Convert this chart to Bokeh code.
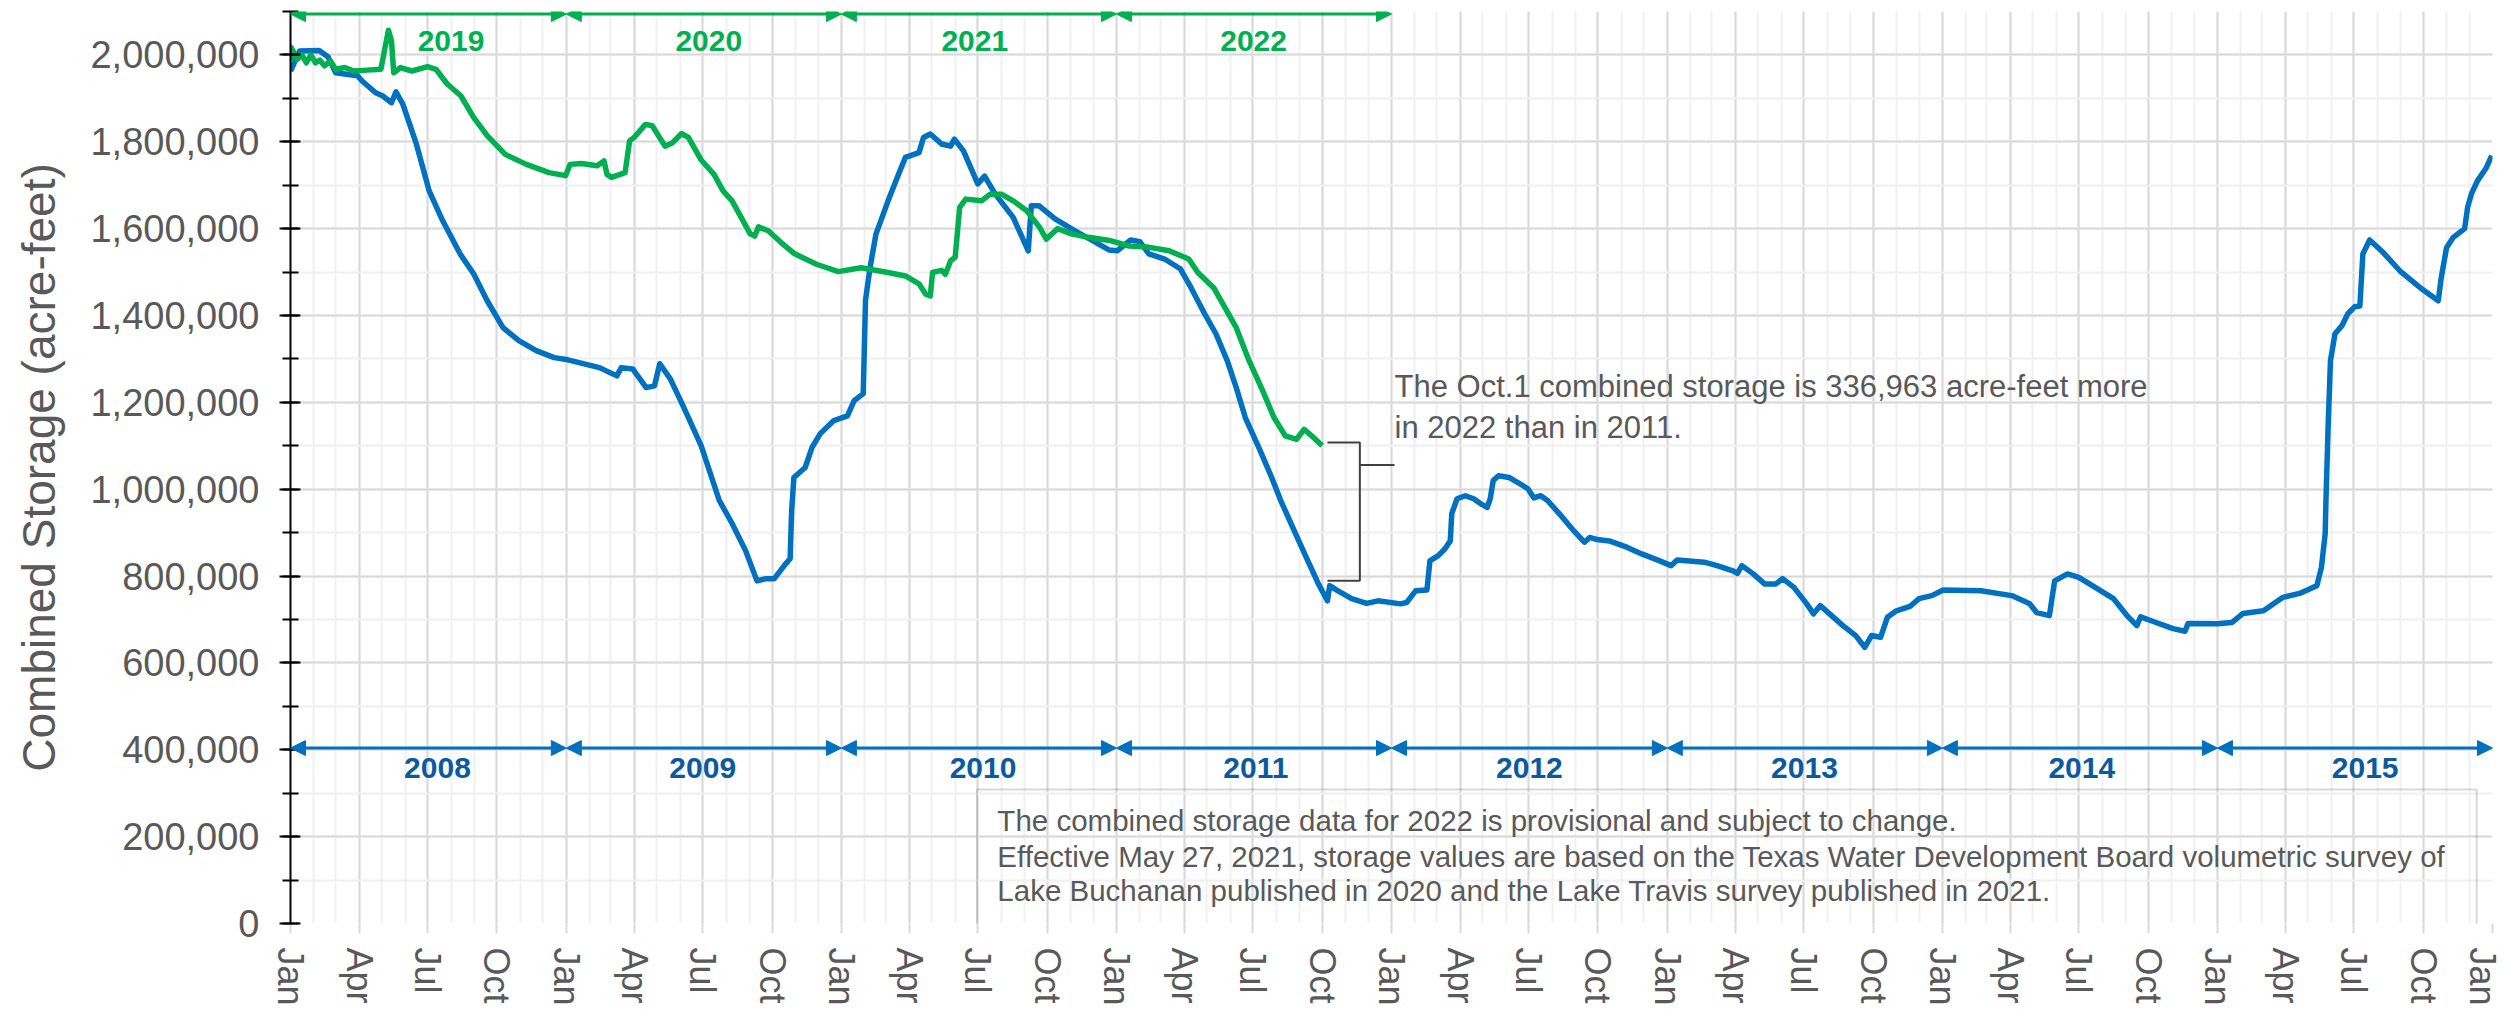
import math
import pandas as pd
from bokeh.plotting import figure
from bokeh.models import (Range1d, FixedTicker, NumeralTickFormatter, DatetimeTickFormatter,
                          Arrow, NormalHead, Label, BoxAnnotation)
from bokeh.embed import file_html
from bokeh.resources import INLINE

# ---------------- data ----------------
blue_dates = [
    "2008-01-01", "2008-01-13", "2008-02-08", "2008-02-20", "2008-03-01", "2008-03-30", "2008-04-05",
    "2008-04-23", "2008-05-02", "2008-05-14", "2008-05-20", "2008-05-29", "2008-06-16", "2008-07-03",
    "2008-07-21", "2008-08-13", "2008-08-31", "2008-09-18", "2008-10-09", "2008-10-30", "2008-11-22",
    "2008-12-16", "2009-01-03", "2009-02-14", "2009-03-09", "2009-03-15", "2009-03-30", "2009-04-17",
    "2009-04-28", "2009-05-05", "2009-05-19", "2009-06-06", "2009-06-29", "2009-07-23", "2009-08-09",
    "2009-08-27", "2009-09-11", "2009-09-23", "2009-10-04", "2009-10-19", "2009-10-25", "2009-10-27",
    "2009-10-30", "2009-11-14", "2009-11-23", "2009-12-04", "2009-12-22", "2010-01-09", "2010-01-18",
    "2010-01-30", "2010-02-02", "2010-02-08", "2010-02-16", "2010-03-04", "2010-03-18", "2010-03-27",
    "2010-04-14", "2010-04-20", "2010-04-29", "2010-05-14", "2010-05-26", "2010-05-31", "2010-06-12",
    "2010-07-01", "2010-07-10", "2010-07-24", "2010-08-17", "2010-09-06", "2010-09-10", "2010-09-20",
    "2010-10-12", "2010-11-07", "2010-12-01", "2010-12-22", "2011-01-02", "2011-01-20", "2011-02-01",
    "2011-02-13", "2011-03-06", "2011-03-27", "2011-04-10", "2011-04-28", "2011-05-13", "2011-05-28",
    "2011-06-09", "2011-06-21", "2011-07-09", "2011-07-26", "2011-08-07", "2011-08-25", "2011-09-12",
    "2011-09-26", "2011-10-08", "2011-10-11", "2011-10-22", "2011-11-09", "2011-11-29", "2011-12-14",
    "2012-01-13", "2012-01-21", "2012-02-02", "2012-02-17", "2012-02-21", "2012-03-03", "2012-03-12",
    "2012-03-19", "2012-03-21", "2012-03-28", "2012-04-08", "2012-04-19", "2012-04-28", "2012-05-07",
    "2012-05-11", "2012-05-15", "2012-05-22", "2012-06-05", "2012-06-16", "2012-06-30", "2012-07-08",
    "2012-07-17", "2012-07-26", "2012-08-13", "2012-08-30", "2012-09-13", "2012-09-20", "2012-09-30",
    "2012-10-16", "2012-11-09", "2012-11-28", "2012-12-22", "2013-01-06", "2013-01-14", "2013-02-19",
    "2013-03-08", "2013-03-29", "2013-04-04", "2013-04-10", "2013-04-25", "2013-05-10", "2013-05-25",
    "2013-06-03", "2013-06-18", "2013-07-05", "2013-07-14", "2013-07-23", "2013-08-07", "2013-08-22",
    "2013-09-08", "2013-09-20", "2013-09-29", "2013-10-11", "2013-10-20", "2013-11-01", "2013-11-19",
    "2013-12-01", "2013-12-18", "2014-01-02", "2014-02-21", "2014-04-03", "2014-04-27", "2014-05-06",
    "2014-05-23", "2014-05-30", "2014-06-16", "2014-07-01", "2014-07-19", "2014-08-16", "2014-09-03",
    "2014-09-16", "2014-09-21", "2014-10-07", "2014-11-03", "2014-11-19", "2014-11-23", "2015-01-01",
    "2015-01-20", "2015-02-04", "2015-03-03", "2015-03-29", "2015-04-20", "2015-05-04", "2015-05-13",
    "2015-05-19", "2015-05-24", "2015-05-25", "2015-05-28", "2015-05-31", "2015-06-06", "2015-06-15",
    "2015-06-23", "2015-07-02", "2015-07-09", "2015-07-13", "2015-07-22", "2015-08-09", "2015-08-31",
    "2015-09-27", "2015-10-21", "2015-10-25", "2015-11-01", "2015-11-10", "2015-11-25", "2015-11-29",
    "2015-12-04", "2015-12-12", "2015-12-24", "2015-12-31",
]
blue_values = [
    1963000, 2009000, 2010000, 1995000, 1959000, 1952000, 1940000,
    1913000, 1906000, 1890000, 1915000, 1887000, 1795000, 1687000,
    1618000, 1542000, 1496000, 1434000, 1372000, 1342000, 1319000,
    1303000, 1298000, 1280000, 1261000, 1280000, 1277000, 1234000,
    1238000, 1289000, 1254000, 1188000, 1100000, 974000, 921000,
    858000, 789000, 794000, 794000, 828000, 840000, 950000,
    1027000, 1050000, 1096000, 1128000, 1158000, 1169000, 1204000,
    1220000, 1434000, 1510000, 1588000, 1664000, 1726000, 1764000,
    1775000, 1810000, 1818000, 1795000, 1790000, 1806000, 1779000,
    1703000, 1721000, 1680000, 1626000, 1549000, 1653000, 1653000,
    1622000, 1595000, 1572000, 1551000, 1549000, 1574000, 1570000,
    1542000, 1530000, 1507000, 1464000, 1404000, 1358000, 1296000,
    1234000, 1165000, 1096000, 1027000, 974000, 904000, 835000,
    782000, 743000, 778000, 766000, 748000, 737000, 743000,
    736000, 739000, 766000, 768000, 835000, 847000, 863000,
    881000, 944000, 978000, 985000, 978000, 967000, 958000,
    978000, 1020000, 1031000, 1027000, 1016000, 1001000, 980000,
    985000, 974000, 939000, 904000, 878000, 889000, 884000,
    881000, 866000, 851000, 835000, 824000, 837000, 832000,
    824000, 812000, 806000, 824000, 805000, 782000, 782000,
    794000, 774000, 736000, 713000, 732000, 709000, 686000,
    663000, 636000, 663000, 659000, 705000, 720000, 730000,
    748000, 755000, 768000, 766000, 755000, 736000, 716000,
    709000, 789000, 805000, 797000, 778000, 748000, 709000,
    686000, 706000, 696000, 679000, 673000, 691000, 690000,
    693000, 714000, 720000, 751000, 760000, 771000, 778000,
    820000, 898000, 974000, 1151000, 1296000, 1358000, 1376000,
    1404000, 1420000, 1422000, 1542000, 1574000, 1545000, 1503000,
    1464000, 1434000, 1487000, 1556000, 1580000, 1600000, 1649000,
    1680000, 1710000, 1741000, 1768000,
]

green_dates = [
    "2019-01-01", "2019-01-02", "2019-01-10", "2019-01-16", "2019-01-22", "2019-01-28", "2019-02-03",
    "2019-02-09", "2019-02-15", "2019-02-23", "2019-03-01", "2019-03-13", "2019-03-25", "2019-04-12",
    "2019-04-30", "2019-05-05", "2019-05-10", "2019-05-14", "2019-05-17", "2019-05-26", "2019-06-10",
    "2019-07-01", "2019-07-12", "2019-07-27", "2019-08-14", "2019-08-31", "2019-09-18", "2019-10-12",
    "2019-11-09", "2019-12-09", "2019-12-31", "2020-01-06", "2020-01-21", "2020-02-11", "2020-02-20",
    "2020-02-24", "2020-03-02", "2020-03-20", "2020-03-26", "2020-04-01", "2020-04-16", "2020-04-25",
    "2020-05-12", "2020-05-22", "2020-06-03", "2020-06-12", "2020-06-29", "2020-07-16", "2020-07-28",
    "2020-08-09", "2020-09-02", "2020-09-08", "2020-09-13", "2020-09-26", "2020-10-13", "2020-10-31",
    "2020-11-29", "2020-12-28", "2021-01-27", "2021-03-04", "2021-03-27", "2021-04-14", "2021-04-23",
    "2021-04-29", "2021-05-02", "2021-05-14", "2021-05-19", "2021-05-26", "2021-06-01", "2021-06-07",
    "2021-06-15", "2021-07-06", "2021-07-17", "2021-08-02", "2021-08-17", "2021-09-04", "2021-09-21",
    "2021-09-30", "2021-10-15", "2021-11-02", "2021-11-25", "2021-12-25", "2022-01-18", "2022-02-10",
    "2022-03-12", "2022-04-07", "2022-04-19", "2022-05-10", "2022-05-25", "2022-06-09", "2022-06-26",
    "2022-07-14", "2022-07-29", "2022-08-13", "2022-08-28", "2022-09-07", "2022-09-17", "2022-10-01",
]
green_values = [
    1985000, 2017000, 1990000, 2000000, 1982000, 2000000, 1982000,
    1988000, 1975000, 1986000, 1967000, 1971000, 1963000, 1965000,
    1967000, 2013000, 2057000, 2032000, 1959000, 1971000, 1963000,
    1973000, 1967000, 1933000, 1906000, 1856000, 1814000, 1771000,
    1748000, 1729000, 1722000, 1748000, 1750000, 1745000, 1756000,
    1725000, 1718000, 1729000, 1802000, 1810000, 1840000, 1837000,
    1790000, 1798000, 1819000, 1810000, 1758000, 1725000, 1687000,
    1664000, 1588000, 1583000, 1604000, 1595000, 1568000, 1542000,
    1518000, 1501000, 1510000, 1499000, 1491000, 1473000, 1449000,
    1445000, 1499000, 1504000, 1495000, 1526000, 1534000, 1649000,
    1668000, 1664000, 1679000, 1679000, 1664000, 1641000, 1603000,
    1576000, 1600000, 1588000, 1580000, 1572000, 1560000, 1558000,
    1549000, 1530000, 1499000, 1464000, 1418000, 1372000, 1296000,
    1227000, 1165000, 1123000, 1115000, 1138000, 1123000, 1100000,
]

blue_years = ["2008", "2009", "2010", "2011", "2012", "2013", "2014", "2015"]
green_years = ["2019", "2020", "2021", "2022"]
quarter_labels = ["Jan", "Apr", "Jul", "Oct"]
y_ticks = list(range(0, 2000001, 200000))

note_lines = [
    "The combined storage data for 2022 is provisional and subject to change.",
    "Effective May 27, 2021, storage values are based on the Texas Water Development Board volumetric survey of",
    "Lake Buchanan published in 2020 and the Lake Travis survey published in 2021.",
]
diff_lines = [
    "The Oct.1 combined storage is 336,963 acre-feet more",
    "in 2022 than in 2011.",
]

# ---------------- helpers ----------------
def ms(s):
    return pd.Timestamp(s).value / 1e6

BLUE = "#0070c0"
GREEN = "#00b050"
DARKBLUE = "#0a5aa0"
GRAY_TXT = "#595959"
FONT = "Liberation Sans"

bx = pd.to_datetime(blue_dates)
gx = [d.replace(year=d.year - 11) for d in pd.to_datetime(green_dates)]

p = figure(x_axis_type="datetime", output_backend="svg", toolbar_location=None,
           frame_width=2202, frame_height=912,
           min_border_left=290, min_border_right=10, min_border_top=11, min_border_bottom=10,
           x_range=Range1d(ms("2008-01-01"), ms("2016-01-01")),
           y_range=Range1d(0, 2100000))
p.outline_line_color = None
p.background_fill_color = "white"

# ticks
quarter_ticks = []
overrides = {}
for yr in range(2008, 2017):
    for i, m in enumerate([1, 4, 7, 10]):
        if yr == 2016 and m > 1:
            break
        t = int(ms(f"{yr}-{m:02d}-01"))
        quarter_ticks.append(t)
        overrides[t] = quarter_labels[i]
month_ticks = [int(ms(f"{yr}-{m:02d}-01")) for yr in range(2008, 2016) for m in range(1, 13)] + [int(ms("2016-01-01"))]

p.xaxis.ticker = FixedTicker(ticks=quarter_ticks, minor_ticks=month_ticks)
p.xaxis.formatter = DatetimeTickFormatter(days="%b", months="%b", years="%b")
p.xaxis.major_label_overrides = overrides
p.xaxis.major_label_orientation = -math.pi / 2
p.xaxis.major_label_text_font = FONT
p.xaxis.major_label_text_font_size = "36px"
p.xaxis.major_label_text_color = GRAY_TXT
p.xaxis.axis_line_color = None
p.xaxis.major_tick_line_color = "#d9d9d9"
p.xaxis.major_tick_line_width = 2
p.xaxis.major_tick_in = 0
p.xaxis.major_tick_out = 10
p.xaxis.minor_tick_line_color = None
p.xaxis.major_label_standoff = 14

p.yaxis.ticker = FixedTicker(ticks=y_ticks, minor_ticks=list(range(0, 2100001, 100000)))
p.yaxis.formatter = NumeralTickFormatter(format="0,0")
p.yaxis.major_label_text_font = FONT
p.yaxis.major_label_text_font_size = "38px"
p.yaxis.major_label_text_color = GRAY_TXT
p.yaxis.axis_line_color = "black"
p.yaxis.axis_line_width = 2
p.yaxis.major_tick_line_color = "black"
p.yaxis.major_tick_line_width = 2
p.yaxis.major_tick_in = 10
p.yaxis.major_tick_out = 11
p.yaxis.minor_tick_line_color = "black"
p.yaxis.minor_tick_line_width = 2
p.yaxis.minor_tick_in = 8
p.yaxis.minor_tick_out = 8
p.yaxis.major_label_standoff = 20
p.yaxis.axis_label = "Combined Storage (acre-feet)"
p.yaxis.axis_label_text_font = FONT
p.yaxis.axis_label_text_font_size = "46px"
p.yaxis.axis_label_text_font_style = "normal"
p.yaxis.axis_label_text_color = GRAY_TXT
p.yaxis.axis_label_standoff = 22

for g in (p.xgrid, p.ygrid):
    g.grid_line_color = "#d9d9d9"
    g.grid_line_width = 2
    g.minor_grid_line_color = "#f0f0f0"
    g.minor_grid_line_width = 2

# data lines
p.line(bx, blue_values, line_color=BLUE, line_width=5.5, line_join="round")
p.line(gx, green_values, line_color=GREEN, line_width=5.5, line_join="round")

# year arrows
def year_arrows(years, y, color, label_y, label_color, label_pos):
    for i, yr in enumerate(years):
        x0 = ms(f"{2008 + i}-01-01")
        x1 = ms(f"{2009 + i}-01-01")
        p.add_layout(Arrow(start=NormalHead(size=15, fill_color=color, line_color=color),
                           end=NormalHead(size=15, fill_color=color, line_color=color),
                           x_start=x0, y_start=y, x_end=x1, y_end=y,
                           line_color=color, line_width=3))
        p.add_layout(Label(x=ms(label_pos[i]), y=label_y, text=yr, text_font=FONT,
                           text_font_size="30px", text_font_style="bold", text_color=label_color,
                           text_align="center", text_baseline="middle"))

year_arrows(green_years, 2094000, GREEN, 2032000, GREEN,
            ["2008-08-01", "2009-07-09", "2010-06-27", "2011-07-02"])
year_arrows(blue_years, 404000, BLUE, 357000, DARKBLUE,
            ["2008-07-14", "2009-07-01", "2010-07-08", "2011-07-05",
             "2012-07-02", "2013-07-02", "2014-07-05", "2015-07-16"])

# bracket
bx0, bx1, bx2 = ms("2011-10-08"), ms("2011-11-20"), ms("2012-01-05")
p.multi_line(xs=[[bx0, bx1, bx1, bx0], [bx1, bx2]],
             ys=[[1107700, 1107700, 789000, 789000], [1056000, 1056000]],
             line_color="#404040", line_width=2)

for i, t in enumerate(diff_lines):
    p.add_layout(Label(x=ms("2012-01-05"), y=[1236000, 1141500][i], text=t, text_font=FONT,
                       text_font_size="31px", text_color=GRAY_TXT,
                       text_align="left", text_baseline="middle"))

# note box
p.add_layout(BoxAnnotation(left=ms("2010-06-30"), right=ms("2015-12-11"), top=308400, bottom=-5000,
                           fill_alpha=0, fill_color=None, line_color="#7f7f7f", line_width=2))
for i, t in enumerate(note_lines):
    p.add_layout(Label(x=ms("2010-07-27"), y=[237000, 154000, 76000][i], text=t, text_font=FONT,
                       text_font_size="29.5px", text_color=GRAY_TXT,
                       text_align="left", text_baseline="middle"))

open("out.html", "w").write(file_html(p, INLINE))
